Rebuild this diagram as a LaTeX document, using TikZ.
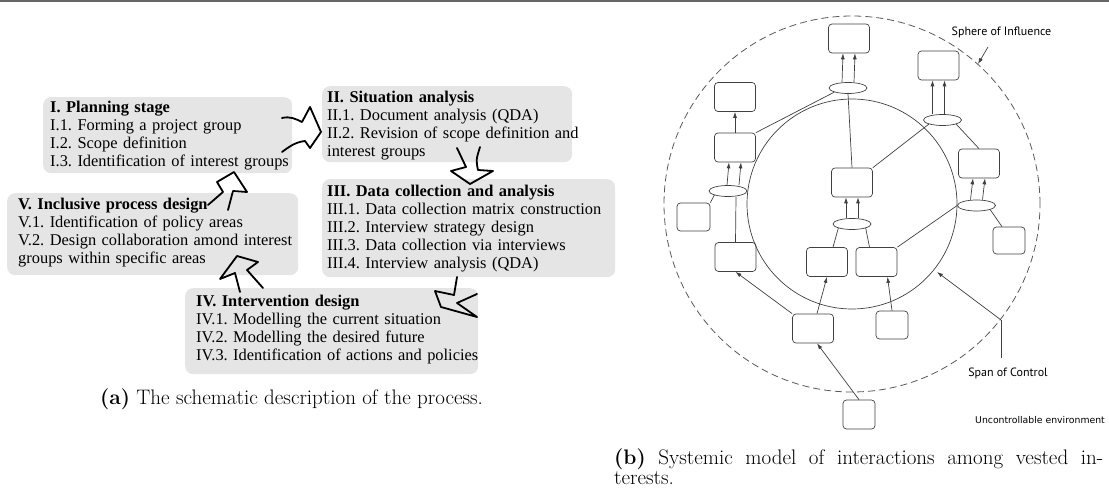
\documentclass[tikz,border=0pt]{standalone}
\usepackage{fontspec}
\newfontfamily\stagefont{Liberation Serif}
\newfontfamily\scanfont{PT Sans}
\newfontfamily\notefont{DejaVu Sans}
\usetikzlibrary{arrows.meta}
\usetikzlibrary{calc}
\usetikzlibrary{positioning}
\usetikzlibrary{shapes.geometric}
\tikzset{>=latex}
\frenchspacing
\tikzset{
  stagebg/.style={fill=black!10, rounded corners=8pt, inner sep=0pt, anchor=north west},
  stagetext/.style={anchor=base west, inner sep=0pt, align=left, text width=300pt,
    font=\stagefont\fontsize{16.4}{18}\selectfont},
  handarrow/.style={line width=1.8pt, line join=round, line cap=round},
  actor/.style={draw=black!75, line width=0.7pt, rounded corners=3.5pt,
    minimum width=41pt, minimum height=29pt, inner sep=0pt},
  hub/.style={draw=black!75, line width=0.7pt, ellipse, minimum width=38pt,
    minimum height=11pt, inner sep=0pt},
  link/.style={black!75, line width=0.7pt},
  flow/.style={link, -{Latex[length=6pt,width=4pt]}},
  scanlabel/.style={font=\scanfont\fontsize{12}{13}\selectfont, inner sep=0pt},
  captext/.style={font=\fontsize{21}{20}\selectfont, inner sep=0pt, anchor=base west}
}

\begin{document}
\begin{tikzpicture}[x=1pt,y=-1pt]
    \useasboundingbox (0,0) rectangle (1109,489);

    \draw[black!60, line width=2pt] (0,1.5) -- (1109,1.5);

    % (a) the stages
    \node[stagebg, minimum width=249pt, minimum height=76pt] (planbg) at (43,97) {};
    \node[stagetext] (plan) at ([shift={(7,15.5)}]planbg.north west)
    {\textbf{I. Planning stage}\\ I.1. Forming a project group\\ I.2. Scope definition\\
     I.3. Identification of interest groups};

    \node[stagebg, minimum width=250pt, minimum height=76pt] (situbg) at (322,86) {};
    \node[stagetext] (situ) at ([shift={(5,16.5)}]situbg.north west)
    {\textbf{II. Situation analysis}\\ II.1. Document analysis (QDA)\\
     II.2. Revision of scope definition and\\ interest groups};

    \node[stagebg, minimum width=293pt, minimum height=98pt] (databg) at (322,179) {};
    \node[stagetext] (data) at ([shift={(5,17.5)}]databg.north west)
    {\textbf{III. Data collection and analysis}\\ III.1. Data collection matrix construction\\
     III.2. Interview strategy design\\ III.3. Data collection via interviews\\
     III.4. Interview analysis (QDA)};

    \node[stagebg, minimum width=293pt, minimum height=86pt] (intvbg) at (185,288) {};
    \node[stagetext] (intv) at ([shift={(11,18.5)}]intvbg.north west)
    {\textbf{IV. Intervention design}\\ IV.1. Modelling the current situation\\
     IV.2. Modelling the desired future\\ IV.3. Identification of actions and policies};

    \node[stagebg, minimum width=291pt, minimum height=82pt] (inclbg) at (7,193) {};
    \node[stagetext] (incl) at ([shift={(11,16.5)}]inclbg.north west)
    {\textbf{V. Inclusive process design}\\ V.1. Identification of policy areas\\
     V.2. Design collaboration amond interest\\ groups within specific areas};

    % hand drawn arrows
    \draw[handarrow] (282,118) .. controls (290,116) and (296,119) .. (302,122) -- (310,107)
        -- (321,132) -- (310,148) -- (305,141) .. controls (296,142) and (290,146) .. (282,152);
    \draw[handarrow] (457,148) -- (466,167) -- (451,171) -- (470,184) -- (493,171) -- (478,170)
        .. controls (476,160) .. (480,147);
    \draw[handarrow] (457,277) -- (454,295) -- (435,291) -- (441,307) -- (477,317) -- (457,303)
        -- (477,294);
    \draw[handarrow] (240,292) -- (235,273) -- (220,279) -- (237,256) -- (258,262) -- (247,270)
        -- (263,288);
    \draw[handarrow] (208,205) -- (223,192) -- (217,182) -- (234,172) -- (247,192) -- (233,191)
        -- (228,210);

    \node[captext] (capa) at (100,404.5)
    {\textbf{(a)} The schematic description of the process.};

    % (b) systemic model
    \coordinate (core) at (852,204);
    \draw[black!65, line width=0.8pt, dash pattern=on 7pt off 4pt] (core) circle[radius=188pt];
    \draw[link] (core) circle[radius=105pt];

    \node[actor] (tbox) at (849,38.5) {};
    \node[actor] (urbox) at (938.5,65.5) {};
    \node[actor] (ltbox) at (735,97) {};
    \node[actor] (lmbox) at (735,147.5) {};
    \node[actor] (cbox) at (852,182.5) {};
    \node[actor] (rbox) at (979,163.5) {};
    \node[actor, minimum width=33pt, minimum height=28pt] (slbox) at (693.5,217) {};
    \node[actor, minimum width=32pt, minimum height=27pt] (rlbox) at (1009,240.5) {};
    \node[actor] (llbox) at (735.5,257) {};
    \node[actor] (iblbox) at (827,262) {};
    \node[actor] (ibrbox) at (876.5,262) {};
    \node[actor] (lbbox) at (813,328.5) {};
    \node[actor, minimum width=32pt, minimum height=28pt] (lsbox) at (892,325) {};
    \node[actor, minimum width=32pt, minimum height=29pt] (envbox) at (859,414.5) {};

    \node[hub] (htop) at (848,88) {};
    \node[hub] (hright) at (942.5,120) {};
    \node[hub] (hleft) at (728,191) {};
    \node[hub] (hmid) at (852,224) {};
    \node[hub] (hlow) at (976.5,205.5) {};

    \foreach \h/\b/\s in {htop/tbox/0, hright/urbox/-4, hleft/lmbox/5, hmid/cbox/0, hlow/rbox/0}{
        \draw[flow] ([xshift={\s-6}]\h.north) -- ([xshift=-6pt]\b.south);
        \draw[flow] ([xshift={\s+6}]\h.north) -- ([xshift=6pt]\b.south);
    }

    \draw[link] (htop.south west) -- (lmbox.north east);
    \draw[link] (htop.south) -- (cbox.north);
    \draw[link] (cbox.north east) -- (hright.south west);
    \draw[link] (hright.south east) -- (rbox.north);
    \draw[link] (slbox.north east) -- (hleft.south west);
    \draw[link] ([xshift=8pt]hleft.south) -- (llbox.north);
    \draw[link] (hlow.south east) -- ([xshift=-7pt]rlbox.north);
    \draw[link] (hlow.west) -- (ibrbox.north east);
    \draw[link] (hmid.south west) -- ([xshift=6pt]iblbox.north);
    \draw[link] (hmid.south east) -- ([xshift=-7pt]ibrbox.north);

    \draw[flow] (lmbox.north) -- (ltbox.south);
    \draw[flow] ([xshift=4pt]lbbox.north) -- (iblbox.south);
    \draw[flow] (lbbox.north west) -- (llbox.south);
    \draw[flow] (lsbox.north) -- ([xshift=11pt]ibrbox.south);
    \draw[flow] (envbox.north) -- ([xshift=4pt]lbbox.south);

    \node[scanlabel] (sphere) at (1001.5,32) {Sphere of Influence};
    \coordinate (sphtail) at (988,47);
    \coordinate (sphtip) at (978,64);
    \draw[flow] (sphtail) -- (sphtip);

    \node[scanlabel] (span) at (1008,373) {Span of Control};
    \coordinate (spanjoint) at (1001,320);
    \coordinate (spantip) at (937,272);
    \draw[link] ([xshift=-7pt,yshift=9pt]span.north) -- (spanjoint);
    \draw[flow] (spanjoint) -- (spantip);

    \node[font=\notefont\fontsize{9.3}{11}\selectfont, inner sep=0pt, anchor=east] (envnote)
        at (1105,420) {Uncontrollable environment};

    \node[captext, text width=489pt, align=justify] (capb) at (614,464)
    {\textbf{(b)} Systemic model of interactions among vested in-\linebreak terests.};

\end{tikzpicture}
\end{document}
